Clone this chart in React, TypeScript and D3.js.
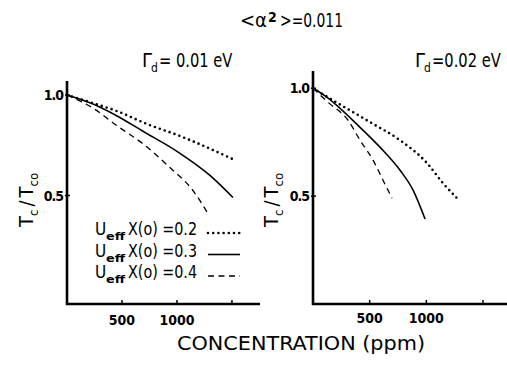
import { scaleLinear, line, curveMonotoneX } from 'd3';

// Left panel, Γd = 0.01 eV
const leftU02Ppm = [0, 236, 455, 727, 1009, 1145, 1500];
const leftU02Tc = [1.0, 0.96, 0.92, 0.856, 0.8, 0.77, 0.683];
const leftU03Ppm = [0, 236, 455, 691, 1000, 1300, 1509];
const leftU03Tc = [1.0, 0.955, 0.896, 0.82, 0.72, 0.6, 0.49];
const leftU04Ppm = [0, 236, 455, 691, 936, 1145, 1282];
const leftU04Tc = [1.0, 0.935, 0.847, 0.757, 0.639, 0.525, 0.41];

// Right panel, Γd = 0.02 eV
const rightU02Ppm = [0, 106, 371, 503, 768, 1006, 1147, 1280];
const rightU02Tc = [1.0, 0.966, 0.884, 0.843, 0.759, 0.653, 0.56, 0.486];
const rightU03Ppm = [0, 106, 415, 591, 768, 883, 989];
const rightU03Tc = [1.0, 0.965, 0.819, 0.727, 0.62, 0.528, 0.394];
const rightU04Ppm = [0, 132, 309, 415, 530, 618, 697];
const rightU04Tc = [1.0, 0.935, 0.852, 0.759, 0.667, 0.574, 0.49];

const xTicks = [500, 1000, 1500];
const xTickLabels = ['500', '1000', ''];
const yTicks = [0.5, 1.0];
const yTickLabels = ['0.5', '1.0'];
const legendValues = ['0.2', '0.3', '0.4'];

const FONT = "'DejaVu Sans Condensed', 'DejaVu Sans', sans-serif";

const styles: Record<string, { dash: string; cap: 'round' | 'butt'; width: number }> = {
  '0.2': { dash: '0 5.2', cap: 'round', width: 2.6 },
  '0.3': { dash: '', cap: 'butt', width: 1.6 },
  '0.4': { dash: '6 4.5', cap: 'butt', width: 1.3 },
};

type Series = { key: string; ppm: number[]; tc: number[] };

function Panel({ xDomain, xRange, yDomain, yRange, series, yLabelX, tickLabelDy }: {
  xDomain: [number, number]; xRange: [number, number];
  yDomain: [number, number]; yRange: [number, number];
  series: Series[]; yLabelX: number; tickLabelDy: number;
}) {
  const x = scaleLinear().domain(xDomain).range(xRange);
  const y = scaleLinear().domain(yDomain).range(yRange);
  const x0 = xRange[0];
  const yb = yRange[0];

  return (
    <g>
      {series.map((s) => {
        const st = styles[s.key];
        const pts = s.ppm.map((p, i) => [p, s.tc[i]] as [number, number]);
        const path = line<[number, number]>()
          .x((d) => x(d[0]))
          .y((d) => y(d[1]))
          .curve(curveMonotoneX)(pts);
        return (
          <path key={s.key} d={path || ''} fill="none" stroke="#000"
            strokeWidth={st.width} strokeDasharray={st.dash} strokeLinecap={st.cap} />
        );
      })}
      {/* axes */}
      <line x1={x0} x2={x0} y1={yRange[1]} y2={yb + 1} stroke="#000" strokeWidth={2.6} />
      <line x1={x0 - 1} x2={xRange[1]} y1={yb} y2={yb} stroke="#000" strokeWidth={2.6} />
      {xTicks.map((t, i) => (
        <g key={t}>
          <line x1={x(t)} x2={x(t)} y1={yb} y2={yb - 4} stroke="#000" strokeWidth={1.5} />
          <text x={x(t)} y={yb + tickLabelDy} textAnchor="middle" fontSize={14} fontWeight="bold"
            fontFamily={FONT}>{xTickLabels[i]}</text>
        </g>
      ))}
      {yTicks.map((t, i) => (
        <g key={t}>
          <line x1={x0 - 2} x2={x0 + 3} y1={y(t)} y2={y(t)} stroke="#000" strokeWidth={1.5} />
          <text x={x0 - 4} y={y(t) + 5} textAnchor="end" fontSize={14} fontWeight="bold"
            fontFamily={FONT} letterSpacing={-1}>{yTickLabels[i]}</text>
        </g>
      ))}
      <text transform={`translate(${yLabelX},200) rotate(-90)`} textAnchor="middle"
        fontSize={20} fontFamily={FONT}>
        T<tspan fontSize={13} dy={5}>c</tspan>
        <tspan dy={-5} dx={3}>/</tspan>
        <tspan dx={3}>T</tspan><tspan fontSize={13} dy={5}>co</tspan>
      </text>
    </g>
  );
}

function Gamma({ x, rest, squeeze }: { x: number; rest: string; squeeze: number }) {
  return (
    <g fontFamily={FONT}>
      <text x={x} y={67} fontSize={20}>Γ</text>
      <text x={x + 9} y={72} fontSize={12}>d</text>
      <text transform={`translate(${x + 17},67) scale(${squeeze},1)`} fontSize={19}>{rest}</text>
    </g>
  );
}

export default function App() {
  const leftSeries: Series[] = [
    { key: '0.2', ppm: leftU02Ppm, tc: leftU02Tc },
    { key: '0.3', ppm: leftU03Ppm, tc: leftU03Tc },
    { key: '0.4', ppm: leftU04Ppm, tc: leftU04Tc },
  ];
  const rightSeries: Series[] = [
    { key: '0.2', ppm: rightU02Ppm, tc: rightU02Tc },
    { key: '0.3', ppm: rightU03Ppm, tc: rightU03Tc },
    { key: '0.4', ppm: rightU04Ppm, tc: rightU04Tc },
  ];

  return (
    <svg width={507} height={368} style={{ position: 'absolute', left: 0, top: 0, background: '#fff' }}>
      <rect width={507} height={368} fill="#fff" />
      <g fontFamily={FONT}>
        <text x={240} y={27} fontSize={20} textLength={27} lengthAdjust="spacingAndGlyphs">{'<α'}</text>
        <text x={268} y={22} fontSize={14} fontWeight="bold">2</text>
        <text x={280} y={27} fontSize={20} textLength={63} lengthAdjust="spacingAndGlyphs">{'>=0.011'}</text>
      </g>
      <Gamma x={142} rest="= 0.01 eV" squeeze={0.86} />
      <Gamma x={415} rest="=0.02 eV" squeeze={0.86} />

      <Panel xDomain={[0, 1755]} xRange={[67, 260]} yDomain={[-0.04, 1.07]} yRange={[304, 81]}
        series={leftSeries} yLabelX={33} tickLabelDy={21} />
      <Panel xDomain={[0, 1712]} xRange={[313, 507]} yDomain={[0, 1.08]} yRange={[304, 71]}
        series={rightSeries} yLabelX={278} tickLabelDy={19} />

      {legendValues.map((v, i) => {
        const ty = 235 + i * 21.5;
        const st = styles[v];
        return (
          <g key={v} fontFamily={FONT}>
            <text x={95} y={ty} fontSize={17}>U</text>
            <text x={106} y={ty + 5} fontSize={11} fontWeight="bold" textLength={19}
              lengthAdjust="spacingAndGlyphs">eff</text>
            <text x={128} y={ty} fontSize={17} textLength={69} lengthAdjust="spacingAndGlyphs">{`X(o) =${v}`}</text>
            <line x1={208} x2={240} y1={ty - 2} y2={ty - 2} stroke="#000" strokeWidth={st.width}
              strokeDasharray={st.dash} strokeLinecap={st.cap} />
          </g>
        );
      })}

      <text x={177} y={350} fontSize={19} fontFamily={FONT} textLength={248} lengthAdjust="spacingAndGlyphs">
        CONCENTRATION (ppm)
      </text>
    </svg>
  );
}
